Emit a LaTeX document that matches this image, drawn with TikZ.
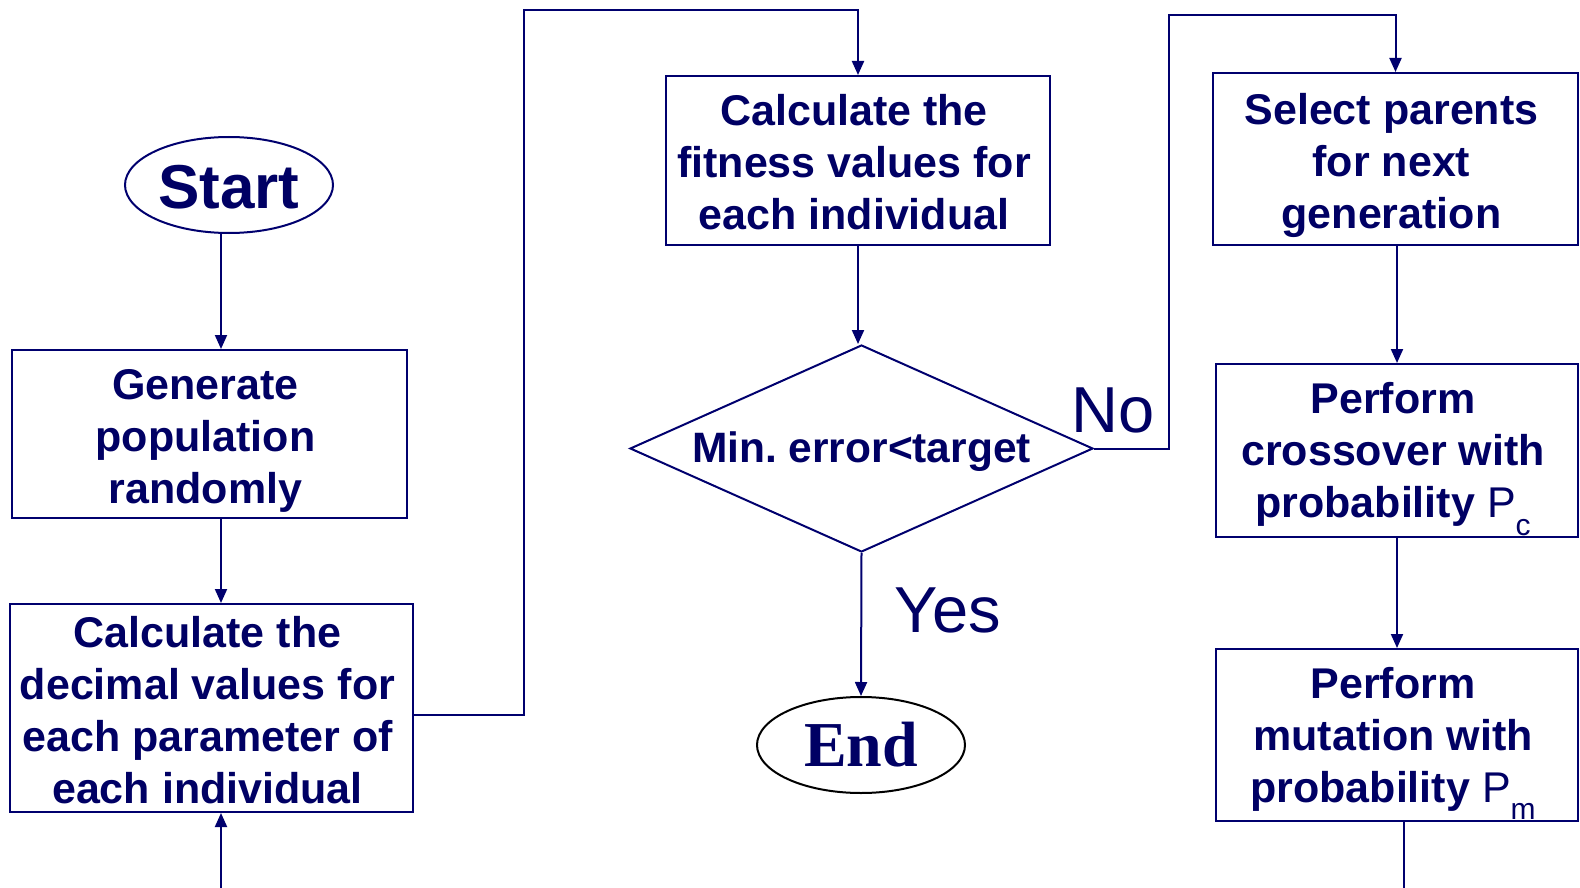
\documentclass[tikz,border=0pt]{standalone}
\usepackage{fontspec}
\setmainfont{Liberation Sans}
\newfontfamily\serifbold{Liberation Serif}
\usetikzlibrary{shapes.geometric,arrows.meta}
\definecolor{navy}{RGB}{0,0,110}
\definecolor{navytext}{RGB}{0,0,100}
\newcommand{\subP}[1]{{\mdseries P\raisebox{-0.4em}{\fontsize{30}{30}\selectfont #1}}}
\newcommand{\txtlines}[2][-5pt]{\raisebox{#1}[\height][\depth]{\begin{tabular}{@{}c@{\hspace{8pt}}}#2\end{tabular}}}
\begin{document}
\begin{tikzpicture}[x=1pt,y=-1pt,
  every node/.style={text=navytext},
  box/.style={draw=navy, line width=2pt, rectangle, inner sep=0pt,
    font=\fontsize{43}{52}\selectfont\bfseries},
  oval/.style={ellipse, line width=2pt, inner sep=0pt, minimum width=208pt, minimum height=96pt},
  arr/.style={draw=navy, line width=2pt, -{Triangle[length=14pt,width=12pt]}},
  ln/.style={draw=navy, line width=2pt},
  lab/.style={font=\fontsize{65}{65}\selectfont, inner sep=0pt}
]
\useasboundingbox (0,0) rectangle (1580,888);
\node[oval, draw=navy, font=\fontsize{62}{62}\selectfont\bfseries] (start) at (229,185) {\raisebox{-2pt}[\height][\depth]{Start}};
\node[box, minimum width=395pt, minimum height=168pt] (gen) at (209.5,434) {\txtlines[-7pt]{Generate\\population\\randomly}};
\node[box, minimum width=403pt, minimum height=208pt] (dec) at (211.5,708) {\txtlines[-7pt]{Calculate the\\decimal values for\\each parameter of\\each individual}};
\node[box, minimum width=384pt, minimum height=169pt] (fit) at (858,160.5) {\txtlines[-7pt]{Calculate the\\fitness values for\\each individual}};
\node[diamond, draw=navy, line width=2pt, inner sep=0pt, shape aspect=2.24,
  minimum width=463pt, minimum height=207pt,
  font=\fontsize{42.5}{52}\selectfont\bfseries] (dia) at (861.5,448.5) {\raisebox{-3pt}[\height][\depth]{\makebox[0pt]{Min.\ error<target}}};
\node[oval, draw=black, font=\fontsize{64}{64}\selectfont\serifbold\bfseries] (endn) at (861,745) {End};
\node[box, minimum width=365pt, minimum height=172pt] (sel) at (1395.5,159) {\txtlines[-7pt]{Select parents\\for next\\generation}};
\node[box, minimum width=362pt, minimum height=173pt] (cross) at (1397,450.5) {\txtlines[-6pt]{Perform\\crossover with\\probability \subP{c}}};
\node[box, minimum width=362pt, minimum height=172pt] (mut) at (1397,735) {\txtlines[-6pt]{Perform\\mutation with\\probability \subP{m}}};
\node[lab] (yes) at (948,610) {Yes};
\node[lab] (no) at (1113,410) {No};
\coordinate (bot1) at (221,888);
\coordinate (bot2) at (1404,888);
\coordinate (c1) at (524,10);
\coordinate (c2) at (1169,15);
\draw[arr] ([xshift=-8pt]start.south) -- ([xshift=-8pt]start.south |- gen.north);
\draw[arr] (gen.south -| bot1) -- (dec.north -| bot1);
\draw[arr] (bot1) -- (bot1 |- dec.south);
\draw[arr] ([yshift=-7pt]dec.east) -| (c1) -| (fit.north);
\draw[arr] (fit.south) -- (fit.south |- dia.north);
\draw[arr] (dia.south) -- (endn.north);
\draw[arr] (dia.east) -| (c2) -| (sel.north);
\draw[arr] (sel.south -| cross.north) -- (cross.north);
\draw[arr] (cross.south) -- (mut.north);
\draw[ln] (mut.south -| bot2) -- (bot2);
\end{tikzpicture}
\end{document}
